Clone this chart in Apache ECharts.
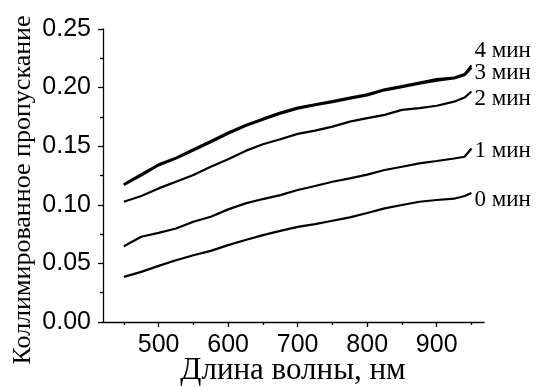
<!DOCTYPE html>
<html>
<head>
<meta charset="utf-8">
<script src="https://cdn.jsdelivr.net/npm/echarts@6/dist/echarts.min.js"></script>
<style>
  html, body { margin: 0; padding: 0; background: #fff; }
  #chart { width: 541px; height: 387px; }
</style>
</head>
<body>
<div id="chart"></div>
<script>
// Wavelength grid, nm
const wavelength = [450, 475, 500, 525, 550, 575, 600, 625, 650, 675, 700, 725, 750, 775, 800, 825, 850, 875, 900, 925, 940, 950];

// Collimated transmittance after 0..4 minutes
const t0 = [0.0385, 0.0428, 0.0479, 0.0527, 0.0570, 0.0607, 0.0656, 0.0700, 0.0741, 0.0778, 0.0812, 0.0835, 0.0864, 0.0893, 0.0930, 0.0970, 0.0998, 0.1026, 0.1041, 0.1052, 0.1075, 0.1100];
const t1 = [0.0647, 0.0727, 0.0760, 0.0798, 0.0855, 0.0898, 0.0961, 0.1012, 0.1049, 0.1083, 0.1126, 0.1160, 0.1197, 0.1226, 0.1258, 0.1297, 0.1325, 0.1354, 0.1374, 0.1395, 0.1410, 0.1480];
const t2 = [0.1026, 0.1075, 0.1140, 0.1197, 0.1254, 0.1325, 0.1388, 0.1460, 0.1517, 0.1559, 0.1605, 0.1633, 0.1667, 0.1710, 0.1739, 0.1767, 0.1810, 0.1825, 0.1845, 0.1880, 0.1915, 0.1967];
const t3 = [0.1168, 0.1250, 0.1336, 0.1395, 0.1463, 0.1534, 0.1606, 0.1672, 0.1727, 0.1778, 0.1821, 0.1850, 0.1876, 0.1906, 0.1933, 0.1977, 0.2004, 0.2033, 0.2060, 0.2078, 0.2105, 0.2170];
const t4 = [0.1175, 0.1262, 0.1345, 0.1402, 0.1473, 0.1545, 0.1616, 0.1680, 0.1735, 0.1787, 0.1829, 0.1857, 0.1885, 0.1914, 0.1942, 0.1985, 0.2013, 0.2042, 0.2072, 0.2085, 0.2115, 0.2190];

const seriesNames = ['0 мин', '1 мин', '2 мин', '3 мин', '4 мин'];
const seriesValues = [t0, t1, t2, t3, t4];
const labelShift = [7, 2, 7, 5, -14];

const xMajorTicks = [500, 600, 700, 800, 900];
const xMinorTicks = [450, 550, 650, 750, 850, 950];

const xTitle = 'Длина волны, нм';
const yTitle = 'Коллимированное пропускание';

const sansFont = '"Liberation Sans", Arial, sans-serif';
const serifFont = '"Liberation Serif", "Times New Roman", serif';

const chart = echarts.init(document.getElementById('chart'), null, { renderer: 'canvas' });

const series = seriesValues.map((vals, i) => ({
  name: seriesNames[i],
  type: 'line',
  xAxisIndex: 0,
  data: wavelength.map((w, k) => [w, vals[k]]),
  showSymbol: false,
  symbol: 'none',
  lineStyle: { color: '#000', width: 2.2 },
  endLabel: {
    show: true,
    formatter: seriesNames[i],
    color: '#000',
    fontFamily: serifFont,
    fontSize: 23,
    distance: 3,
    offset: [0, labelShift[i]]
  },
  emphasis: { disabled: true }
}));

const xCommon = {
  type: 'value',
  min: 420,
  max: 968,
  splitLine: { show: false }
};

chart.setOption({
  animation: false,
  backgroundColor: '#fff',
  grid: { left: 103, top: 29, right: 57, bottom: 65, containLabel: false },
  xAxis: [
    Object.assign({}, xCommon, {
      position: 'bottom',
      axisLine: { show: true, lineStyle: { color: '#000', width: 1.3 } },
      axisTick: { show: true, inside: false, length: 5, customValues: xMajorTicks, lineStyle: { color: '#000', width: 1.3 } },
      axisLabel: { show: true, customValues: xMajorTicks, margin: 11, color: '#000', fontFamily: sansFont, fontSize: 25 }
    }),
    Object.assign({}, xCommon, {
      position: 'bottom',
      axisLine: { show: false },
      axisTick: { show: true, inside: false, length: 3, customValues: xMinorTicks, lineStyle: { color: '#000', width: 1.3 } },
      axisLabel: { show: false }
    })
  ],
  yAxis: {
    type: 'value',
    min: 0,
    max: 0.25,
    interval: 0.05,
    splitLine: { show: false },
    axisLine: { show: true, lineStyle: { color: '#000', width: 1.3 } },
    axisTick: { show: true, inside: false, length: 5, lineStyle: { color: '#000', width: 1.3 } },
    minorTick: { show: true, splitNumber: 2, length: 3, lineStyle: { color: '#000', width: 1.3 } },
    axisLabel: {
      margin: 12,
      color: '#000',
      fontFamily: sansFont,
      fontSize: 25,
      formatter: v => v.toFixed(2)
    }
  },
  graphic: [
    {
      type: 'text',
      x: 293,
      y: 371,
      style: {
        text: xTitle,
        fill: '#000',
        font: '31px ' + serifFont,
        align: 'center',
        verticalAlign: 'middle'
      }
    },
    {
      type: 'text',
      x: 23,
      y: 190,
      rotation: Math.PI / 2,
      style: {
        text: yTitle,
        fill: '#000',
        font: '26px ' + serifFont,
        align: 'center',
        verticalAlign: 'middle'
      }
    }
  ],
  series: series
});
</script>
</body>
</html>
